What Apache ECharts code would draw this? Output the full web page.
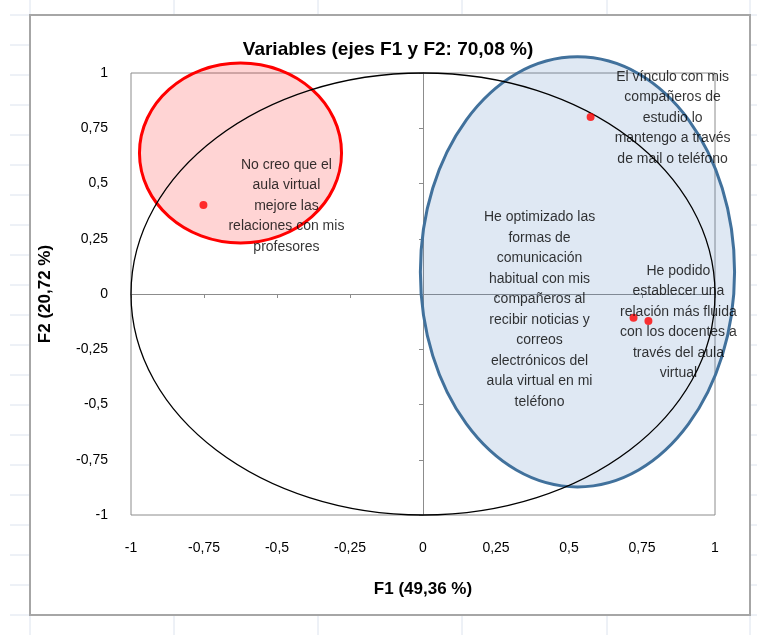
<!DOCTYPE html>
<html><head><meta charset="utf-8">
<script src="https://cdn.jsdelivr.net/npm/echarts@6/dist/echarts.min.js"></script>
<style>html,body{margin:0;padding:0;background:#fff}#c{width:757px;height:635px}</style>
</head><body><div id="c"></div>
<script>
// ---- data ----
const chartTitle = 'Variables (ejes F1 y F2: 70,08 %)';
const xAxisTitle = 'F1 (49,36 %)';
const yAxisTitle = 'F2 (20,72 %)';
const pointLabels = [
  'No creo que el\naula virtual\nmejore las\nrelaciones con mis\nprofesores',
  'El vínculo con mis\ncompañeros de\nestudio lo\nmantengo a través\nde mail o teléfono',
  'He optimizado las\nformas de\ncomunicación\nhabitual con mis\ncompañeros al\nrecibir noticias y\ncorreos\nelectrónicos del\naula virtual en mi\nteléfono',
  'He podido\nestablecer una\nrelación más fluida\ncon los docentes a\ntravés del aula\nvirtual'
];
const f1Values = [-0.752, 0.574, 0.721, 0.772];
const f2Values = [0.403, 0.801, -0.108, -0.122];
const axisMin = -1, axisMax = 1, axisStep = 0.25;

// ---- styling / annotations ----
const labelOffsets = [[83, 1], [82, 1], [-94, -8], [30, 1]];
const redZone = { cx: -0.625, cy: 0.638, rx: 0.346, ry: 0.407 };
const blueZone = { cx: 0.529, cy: 0.10, rx: 0.538, ry: 0.973 };
const FONT = 'Liberation Sans';
const fmt = v => String(v).replace('.', ',');

const chart = echarts.init(document.getElementById('c'), null, { renderer: 'canvas' });
const axisGray = '#8c8c8c';

const option = {
  animation: false,
  backgroundColor: '#fff',
  title: {
    text: chartTitle, left: 383, top: 35, textAlign: 'center',
    textStyle: { fontFamily: FONT, fontWeight: 'bold', fontSize: 19, color: '#000' }
  },
  grid: { left: 131, top: 73, width: 584, height: 442, show: true, borderColor: axisGray, borderWidth: 1, backgroundColor: 'transparent' },
  xAxis: [
    {
      type: 'value', min: axisMin, max: axisMax, interval: axisStep, position: 'bottom',
      axisLine: { show: false, onZero: false }, axisTick: { show: false }, splitLine: { show: false },
      axisLabel: { formatter: fmt, margin: 26, color: '#000', fontSize: 14, fontFamily: FONT },
      name: xAxisTitle, nameLocation: 'middle', nameGap: 66,
      nameTextStyle: { fontWeight: 'bold', fontSize: 17, color: '#000', fontFamily: FONT }
    },
    {
      type: 'value', min: axisMin, max: axisMax, interval: axisStep, position: 'bottom',
      axisLine: { show: true, onZero: true, lineStyle: { color: axisGray, width: 1 } },
      axisTick: { show: true, length: 4, lineStyle: { color: axisGray } },
      axisLabel: { show: false }, splitLine: { show: false }
    }
  ],
  yAxis: [
    {
      type: 'value', min: axisMin, max: axisMax, interval: axisStep, position: 'left',
      axisLine: { show: false, onZero: false }, axisTick: { show: false }, splitLine: { show: false },
      axisLabel: { formatter: fmt, margin: 23, color: '#000', fontSize: 14, fontFamily: FONT },
      name: yAxisTitle, nameLocation: 'middle', nameGap: 77,
      nameTextStyle: { fontWeight: 'bold', fontSize: 17, color: '#000', fontFamily: FONT }
    },
    {
      type: 'value', min: axisMin, max: axisMax, interval: axisStep, position: 'left',
      axisLine: { show: true, onZero: true, lineStyle: { color: axisGray, width: 1 } },
      axisTick: { show: true, length: 4, lineStyle: { color: axisGray } },
      axisLabel: { show: false }, splitLine: { show: false }
    }
  ],
  series: [{
    type: 'scatter', xAxisIndex: 0, yAxisIndex: 0, z: 5,
    symbol: 'circle', symbolSize: 8,
    itemStyle: { color: '#ff0000' },
    label: {
      show: true, position: 'inside', align: 'center', verticalAlign: 'middle',
      color: '#000', fontSize: 14, lineHeight: 20.5, fontFamily: FONT,
      formatter: p => pointLabels[p.dataIndex]
    },
    data: f1Values.map((x, i) => ({ value: [x, f2Values[i]], label: { offset: labelOffsets[i] } }))
  }]
};
chart.setOption(option);

const px = (x, y) => chart.convertToPixel({ xAxisIndex: 0, yAxisIndex: 0 }, [x, y]);
function ellipseShape(z) {
  const c = px(z.cx, z.cy), e = px(z.cx + z.rx, z.cy + z.ry);
  return { cx: c[0], cy: c[1], rx: e[0] - c[0], ry: c[1] - e[1] };
}
const graphics = [];
// spreadsheet background grid
const sheetColor = '#dce3ee';
for (let y = 15; y <= 635; y += 30) {
  graphics.push({ type: 'line', z: -20, silent: true, shape: { x1: 10, y1: y, x2: 757, y2: y }, style: { stroke: sheetColor, lineWidth: 1 } });
}
[30, 174, 318, 462, 607, 750].forEach(x => {
  graphics.push({ type: 'line', z: -20, silent: true, shape: { x1: x, y1: 0, x2: x, y2: 635 }, style: { stroke: sheetColor, lineWidth: 1 } });
});
// chart frame
graphics.push({ type: 'rect', z: -10, silent: true, shape: { x: 30, y: 15, width: 720, height: 600 }, style: { fill: '#fff', stroke: '#a6a6a6', lineWidth: 2 } });
// highlight zones
graphics.push({ type: 'ellipse', z: 1, silent: true, shape: ellipseShape(redZone), style: { fill: 'rgba(255,0,0,0.17)', stroke: '#ff0000', lineWidth: 3 } });
graphics.push({ type: 'ellipse', z: 1, silent: true, shape: ellipseShape(blueZone), style: { fill: 'rgba(79,129,189,0.18)', stroke: '#41719c', lineWidth: 3 } });
// correlation circle
graphics.push({ type: 'ellipse', z: 2, silent: true, shape: ellipseShape({ cx: 0, cy: 0, rx: 1, ry: 1 }), style: { fill: 'none', stroke: '#000', lineWidth: 1.3 } });
chart.setOption({ graphic: graphics });
</script>
</body></html>
